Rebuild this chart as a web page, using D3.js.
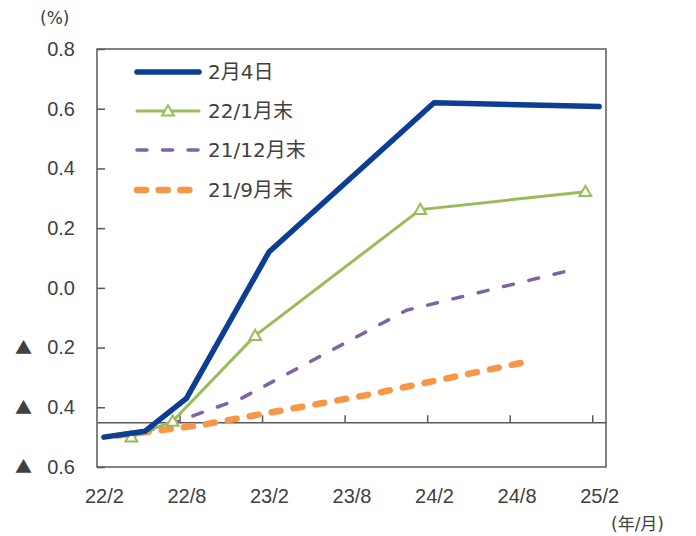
<!DOCTYPE html>
<html>
<head>
<meta charset="utf-8">
<script src="https://cdn.jsdelivr.net/npm/d3@7"></script>
<style>
  body { margin: 0; background: #fff; }
  svg { display: block; font-family: "DejaVu Sans", "Noto Sans CJK JP", sans-serif; }
  text { fill: #404040; }
</style>
</head>
<body>
<div id="chart"></div>
<script>
// x categories are months "yy/m"; first and last month of the axis
const firstMonth = "22/2";
const lastMonth = "25/2";
const xTickLabels = ["22/2", "22/8", "23/2", "23/8", "24/2", "24/8", "25/2"];
const yTicks = [-0.6, -0.4, -0.2, 0, 0.2, 0.4, 0.6, 0.8];
const axisCross = -0.45;

// series: months and values (%)
const feb4Months = ["22/2", "22/5", "22/8", "23/2", "24/2", "25/2"];
const feb4Values = [-0.50, -0.48, -0.37, 0.12, 0.62, 0.607];

const jan22Months = ["22/4", "22/7", "23/1", "24/1", "25/1"];
const jan22Values = [-0.50, -0.447, -0.16, 0.262, 0.322];

const dec21Months = ["22/3", "22/6", "22/12", "23/12", "24/12"];
const dec21Values = [-0.495, -0.47, -0.37, -0.075, 0.06];

const sep21Months = ["22/3", "22/9", "23/9", "24/9"];
const sep21Values = [-0.495, -0.46, -0.36, -0.245];

const seriesNames = ["2月4日", "22/1月末", "21/12月末", "21/9月末"];

const width = 696;
const height = 536;
const margin = { top: 49, left: 97, bottom: 69, right: 90 };
const iwidth = width - margin.left - margin.right;
const iheight = height - margin.top - margin.bottom;

function monthIndex(s) {
  const p = s.split("/").map(Number);
  return (p[0] - 22) * 12 + (p[1] - 2);
}

const svg = d3.select("#chart").append("svg")
  .attr("width", width)
  .attr("height", height);

const g = svg.append("g")
  .attr("transform", `translate(${margin.left},${margin.top})`);

const x = d3.scaleLinear()
  .domain([monthIndex(firstMonth) - 0.5, monthIndex(lastMonth) + 0.5])
  .range([0, iwidth]);

const y = d3.scaleLinear()
  .domain([-0.6, 0.8])
  .range([iheight, 0]);

// frame
g.append("rect")
  .attr("width", iwidth)
  .attr("height", iheight)
  .attr("fill", "none")
  .attr("stroke", "#595959")
  .attr("stroke-width", 1.5);

// y axis
const yAxis = g.append("g")
  .call(d3.axisLeft(y)
    .tickValues(yTicks)
    .tickSizeInner(-8)
    .tickSizeOuter(0)
    .tickPadding(22)
    .tickFormat(d => d3.format(".1f")(Math.abs(d))));
yAxis.select(".domain").remove();
yAxis.selectAll("line").attr("stroke", "#595959").attr("stroke-width", 1.5);
yAxis.selectAll("text")
  .attr("font-size", 20)
  .attr("fill", "#404040");
// negative values are marked with a triangle
yAxis.selectAll(".tick")
  .filter(d => d < 0)
  .append("text")
  .attr("x", -82)
  .attr("dy", "0.34em")
  .attr("text-anchor", "start")
  .attr("font-size", 17)
  .attr("font-family", "Noto Sans CJK JP")
  .attr("fill", "#404040")
  .text("▲");

// horizontal axis line crossing at -0.45, tick marks between categories
const boundaries = d3.range(0, 7).map(i => i * 6 - 0.5);
const xLine = g.append("g")
  .attr("transform", `translate(0,${y(axisCross)})`)
  .call(d3.axisBottom(x)
    .tickValues(boundaries.slice(1))
    .tickSizeInner(-7)
    .tickSizeOuter(0)
    .tickFormat(""));
xLine.selectAll("path, line").attr("stroke", "#595959").attr("stroke-width", 1.5);

// x labels under the frame
const xLabels = g.append("g")
  .attr("transform", `translate(0,${iheight})`)
  .call(d3.axisBottom(x)
    .tickValues(xTickLabels.map(monthIndex))
    .tickSize(0)
    .tickPadding(22)
    .tickFormat((d, i) => xTickLabels[i]));
xLabels.select(".domain").remove();
xLabels.selectAll("text").attr("font-size", 20).attr("fill", "#404040");

// units
svg.append("text")
  .attr("x", 40).attr("y", 24)
  .attr("font-size", 17)
  .text("(%)");
svg.append("text")
  .attr("x", 611).attr("y", 530)
  .attr("font-size", 17)
  .text("(年/月)");

const line = d3.line()
  .x(d => x(monthIndex(d[0])))
  .y(d => y(d[1]));

const series = [
  { months: sep21Months, values: sep21Values, color: "#F79646", w: 6.5, dash: [9, 12.7], tail: 10 },
  { months: dec21Months, values: dec21Values, color: "#8064A2", w: 3.5, dash: [10, 15.5], tail: 8 },
  { months: jan22Months, values: jan22Values, color: "#9BBB59", w: 3, dash: null, marker: true },
  { months: feb4Months, values: feb4Values, color: "#0B3E94", w: 5.5, dash: null },
];

series.forEach(s => {
  const pts = s.months.map((m, i) => [m, s.values[i]]);
  const path = g.append("path")
    .datum(pts)
    .attr("d", line)
    .attr("fill", "none")
    .attr("stroke", s.color)
    .attr("stroke-width", s.w)
    .attr("stroke-linecap", "round")
    .attr("stroke-linejoin", "round");
  if (s.dash) {
    // stretch the gaps a little so the dash pattern ends in a gap, as in the original
    const len = path.node().getTotalLength();
    const period = s.dash[0] + s.dash[1];
    const n = Math.round((len - s.dash[0] - s.tail) / period);
    const p = (len - s.dash[0] - s.tail) / n;
    path.attr("stroke-dasharray", `${s.dash[0]},${p - s.dash[0]}`);
  }
  if (s.marker) {
    g.selectAll(null)
      .data(pts)
      .enter()
      .append("path")
      .attr("d", d3.symbol(d3.symbolTriangle, 60))
      .attr("transform", d => `translate(${x(monthIndex(d[0]))},${y(d[1]) + 1})`)
      .attr("fill", "#fff")
      .attr("stroke", s.color)
      .attr("stroke-width", 2);
  }
});

// legend
const legendItems = [
  { name: seriesNames[0], color: "#0B3E94", w: 5.5, dash: null, y: 72 },
  { name: seriesNames[1], color: "#9BBB59", w: 3, dash: null, marker: true, y: 111 },
  { name: seriesNames[2], color: "#8064A2", w: 3.5, dash: "10,15.5", y: 150 },
  { name: seriesNames[3], color: "#F79646", w: 6.5, dash: "9,12.7", y: 190 },
];
const legend = svg.append("g");
legendItems.forEach(it => {
  legend.append("line")
    .attr("x1", 137).attr("x2", 199)
    .attr("y1", it.y).attr("y2", it.y)
    .attr("stroke", it.color)
    .attr("stroke-width", it.w)
    .attr("stroke-linecap", "round")
    .attr("stroke-dasharray", it.dash);
  if (it.marker) {
    legend.append("path")
      .attr("d", d3.symbol(d3.symbolTriangle, 60))
      .attr("transform", `translate(168,${it.y + 1})`)
      .attr("fill", "#fff")
      .attr("stroke", it.color)
      .attr("stroke-width", 2);
  }
  legend.append("text")
    .attr("x", 208).attr("y", it.y + 7)
    .attr("font-size", 20)
    .text(it.name);
});
</script>
</body>
</html>
